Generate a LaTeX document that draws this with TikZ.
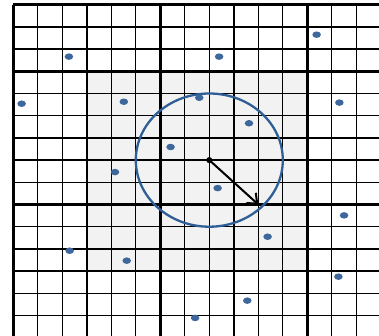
\documentclass[tikz,border=0pt]{standalone}
\usepackage{tikz}
\usetikzlibrary{arrows.meta}

\definecolor{shadegray}{RGB}{242,242,242}
\definecolor{ringblue}{RGB}{47,93,150}
\definecolor{dotblue}{RGB}{62,104,156}

\begin{document}
\begin{tikzpicture}[
    x=0.6cm, y=-0.5437cm, % One grid cell, rows counted downwards
    thinline/.style={black, line width=0.9pt}, % Style for ordinary grid lines
    thickline/.style={black, line width=1.7pt}, % Style for every third grid line
    sample/.style={fill=dotblue, draw=none} % Style for the scattered points
]

    % Fix the visible window (the grid is cut off at right and bottom)
    \useasboundingbox (-0.543, -0.212) rectangle (14.926, 14.92);

    \def\ncell{15} % Number of cells per side
    \def\radius{3} % Circle radius in cells

    % --- Layer 1: Grey shaded block ---
    \fill[shadegray] (3, 3) rectangle (12, 12);

    % --- Layer 2: Grid lines ---
    \foreach \k in {0, ..., \ncell} {
        \draw[thinline] (\k, 0) -- (\k, \ncell);
        \draw[thinline] (0, \k) -- (\ncell, \k);
    }
    \foreach \k in {0, 3, ..., \ncell} {
        \draw[thickline] (\k, 0) -- (\k, \ncell);
        \draw[thickline] (0, \k) -- (\ncell, \k);
    }

    % --- Layer 3: Circle round the centre point ---
    \coordinate (center) at (8, 7);
    \draw[ringblue, line width=1.6pt] (center) ellipse ({\radius} and {\radius});

    % --- Layer 4: Scattered points ---
    \foreach \px/\py in {2.27/2.34, 8.40/2.34, 12.38/1.35, 0.34/4.46, 4.51/4.37,
                         7.59/4.19, 9.62/5.34, 13.31/4.41, 6.42/6.41, 4.15/7.54,
                         8.34/8.26, 13.50/9.49, 10.38/10.45, 2.30/11.08,
                         4.63/11.53, 13.27/12.25, 9.55/13.33, 7.42/14.11} {
        \fill[sample] (\px, \py) ellipse (0.105cm and 0.08cm);
    }

    % --- Layer 5: Radius arrow ---
    \coordinate (edge) at (10, 9);
    \fill[black] (center) circle (0.075cm);
    \draw[black, line width=1.4pt, -{Straight Barb[length=2mm, width=3.4mm]}] (center) -- (edge);

\end{tikzpicture}
\end{document}
